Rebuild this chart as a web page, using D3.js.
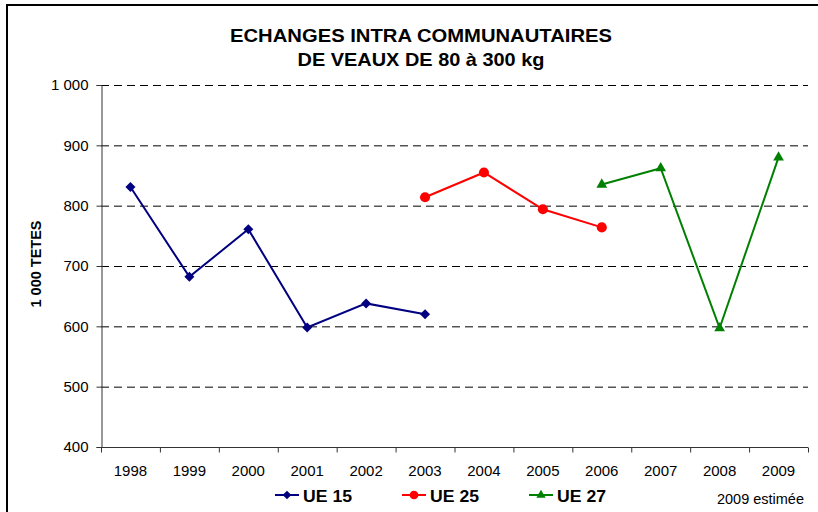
<!DOCTYPE html>
<meta charset="utf-8">
<style>
  body { margin: 0; background: #fff; }
  svg text { font-family: "Liberation Sans", Arial, sans-serif; }
</style>
<script src="https://d3js.org/d3.v7.min.js"></script>
<div id="chart"></div>
<script>
// data
var years = ["1998","1999","2000","2001","2002","2003","2004","2005","2006","2007","2008","2009"];
var ue15 = [["1998",831],["1999",682],["2000",761],["2001",598],["2002",638],["2003",620]];
var ue25 = [["2003",814],["2004",855],["2005",794],["2006",764]];
var ue27 = [["2006",835],["2007",862],["2008",597],["2009",880]];
var yTicks = [400,500,600,700,800,900,1000];

var W = 818, H = 512;

var svg = d3.select("#chart").append("svg")
  .attr("width", W).attr("height", H);

// outer frame
svg.append("rect")
  .attr("x", 7).attr("y", 5).attr("width", 840).attr("height", 540)
  .attr("fill", "none").attr("stroke", "#000").attr("stroke-width", 2);

var x = d3.scaleBand().domain(years).range([101, 808]);
var y = d3.scaleLinear().domain([400, 1000]).range([447, 85]);

var fmt = function(d) { return d3.format(",")(d).replace(",", " "); };

// grid
svg.append("g").selectAll("line")
  .data(yTicks.filter(function(d) { return d > 400; }))
  .join("line")
  .attr("x1", 101).attr("x2", 808)
  .attr("y1", function(d) { return y(d) + 0.5; })
  .attr("y2", function(d) { return y(d) + 0.5; })
  .attr("stroke", "#000").attr("stroke-dasharray", "8,5");

// y axis
var ya = svg.append("g")
  .attr("transform", "translate(101.5,0)")
  .call(d3.axisLeft(y).tickValues(yTicks).tickSize(5).tickPadding(8).tickFormat(fmt));
ya.select(".domain").attr("stroke", "#333");
ya.selectAll(".tick line").attr("stroke", "#333");
ya.selectAll("text").attr("font-size", 15).attr("fill", "#000");

// x axis (ticks between categories)
var xa = svg.append("g").attr("transform", "translate(0,447.5)");
xa.append("line").attr("x1", 101).attr("x2", 808).attr("stroke", "#333");
xa.selectAll("line.t")
  .data(years.concat(["end"]))
  .join("line").attr("class", "t")
  .attr("x1", function(d, i) { return 101 + i * x.step() + 0.5; })
  .attr("x2", function(d, i) { return 101 + i * x.step() + 0.5; })
  .attr("y1", 0).attr("y2", 5).attr("stroke", "#333");
xa.selectAll("text")
  .data(years)
  .join("text")
  .attr("x", function(d) { return x(d) + x.bandwidth() / 2; })
  .attr("y", 28)
  .attr("text-anchor", "middle")
  .attr("font-size", 15)
  .text(function(d) { return d; });

// title
svg.append("text").attr("x", 421).attr("y", 42).attr("text-anchor", "middle")
  .attr("font-size", 18.5).attr("font-weight", "bold")
  .attr("textLength", 382).attr("lengthAdjust", "spacingAndGlyphs")
  .text("ECHANGES INTRA COMMUNAUTAIRES");
svg.append("text").attr("x", 421).attr("y", 66).attr("text-anchor", "middle")
  .attr("font-size", 18.5).attr("font-weight", "bold")
  .attr("textLength", 247).attr("lengthAdjust", "spacingAndGlyphs")
  .text("DE VEAUX DE 80 à 300 kg");

// y title
svg.append("text")
  .attr("transform", "translate(41,264) rotate(-90)")
  .attr("text-anchor", "middle")
  .attr("font-size", 14.5).attr("font-weight", "bold")
  .text("1 000 TETES");

var diamond = {
  draw: function(ctx, size) {
    var r = Math.sqrt(size) / 2 * Math.SQRT2;
    ctx.moveTo(0, -r); ctx.lineTo(r, 0); ctx.lineTo(0, r); ctx.lineTo(-r, 0); ctx.closePath();
  }
};

var series = [
  {name: "UE 15", data: ue15, color: "#000080", sym: diamond, size: 50},
  {name: "UE 25", data: ue25, color: "#FF0000", sym: d3.symbolCircle, size: 80},
  {name: "UE 27", data: ue27, color: "#008000", sym: d3.symbolTriangle, size: 50}
];

var line = d3.line()
  .x(function(d) { return x(d[0]) + x.bandwidth() / 2; })
  .y(function(d) { return y(d[1]); });

series.forEach(function(s) {
  svg.append("path")
    .datum(s.data)
    .attr("d", line)
    .attr("fill", "none")
    .attr("stroke", s.color)
    .attr("stroke-width", 2);
  svg.append("g").selectAll("path")
    .data(s.data)
    .join("path")
    .attr("transform", function(d) {
      return "translate(" + (x(d[0]) + x.bandwidth() / 2) + "," + y(d[1]) + ")";
    })
    .attr("d", d3.symbol().type(s.sym).size(s.size))
    .attr("fill", s.color);
});

// legend
var legX = [275, 402, 529];
series.forEach(function(s, i) {
  var g = svg.append("g").attr("transform", "translate(" + legX[i] + ",495)");
  g.append("line").attr("x1", 0).attr("x2", 24).attr("stroke", s.color).attr("stroke-width", 2);
  g.append("path").attr("transform", "translate(12,0)")
    .attr("d", d3.symbol().type(s.sym).size(s.size * 0.75)).attr("fill", s.color);
  g.append("text").attr("x", 28).attr("y", 7)
    .attr("font-size", 16.5).attr("font-weight", "bold")
    .attr("textLength", 49).attr("lengthAdjust", "spacingAndGlyphs")
    .text(s.name);
});

svg.append("text").attr("x", 804).attr("y", 504).attr("text-anchor", "end")
  .attr("font-size", 14.5).text("2009 estimée");
</script>
